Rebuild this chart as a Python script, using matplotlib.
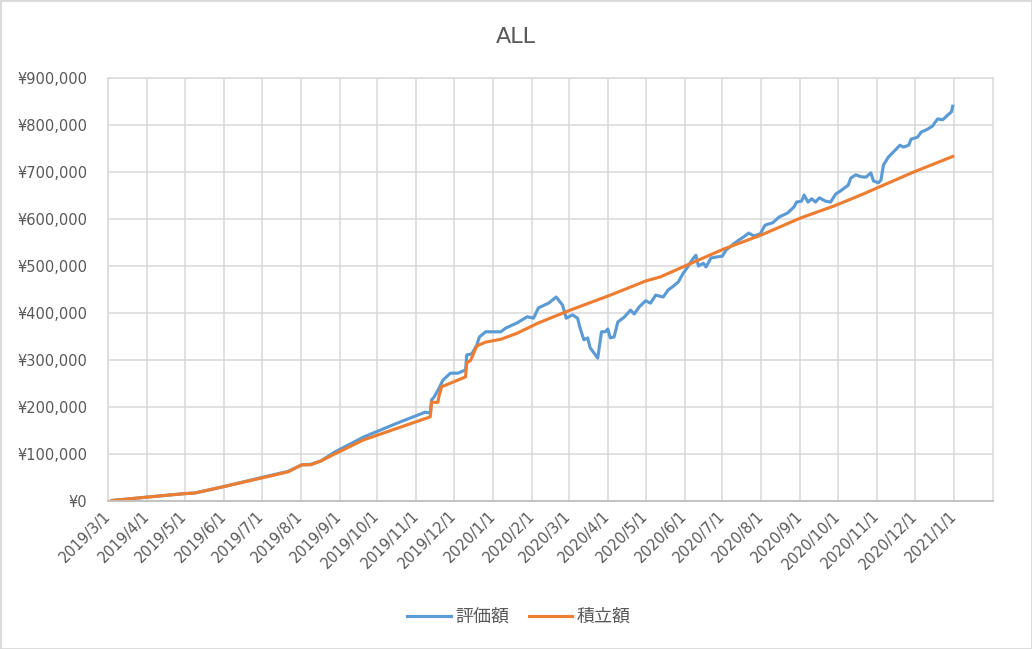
import numpy as np
import pandas as pd
import matplotlib
matplotlib.use("Agg")
import matplotlib.pyplot as plt
import matplotlib.dates as mdates
from matplotlib.patches import Rectangle
from matplotlib.ticker import FuncFormatter

plt.rcParams["font.family"] = ["DejaVu Sans", "Noto Sans CJK JP"]

TITLE = "ALL"
SERIES_NAMES = ["評価額", "積立額"]

# 積立額 (accumulated contributions)
tsumitate_dates = [
    "2019-03-04", "2019-04-02", "2019-04-30", "2019-05-09", "2019-05-31",
    "2019-07-01", "2019-07-22", "2019-08-02", "2019-08-09", "2019-08-17",
    "2019-08-28", "2019-09-20", "2019-10-17", "2019-11-12", "2019-11-13",
    "2019-11-18", "2019-11-19", "2019-11-21", "2019-12-10", "2019-12-11",
    "2019-12-14", "2019-12-19", "2019-12-26", "2020-01-07", "2020-01-20",
    "2020-02-06", "2020-03-02", "2020-04-03", "2020-05-01", "2020-05-13",
    "2020-06-03", "2020-07-02", "2020-08-01", "2020-09-01", "2020-09-28",
    "2020-10-19", "2020-11-30", "2020-12-31",
]
tsumitate_values = [
    1000, 8500, 15500, 17000, 30000,
    49000, 62000, 77000, 77000, 85000,
    100000, 130000, 155000, 179000, 210000,
    210000, 224000, 243000, 264000, 294000,
    299000, 330000, 338000, 344000, 357000,
    379000, 406000, 438000, 468000, 477000,
    502000, 536000, 566000, 602000, 628000,
    651000, 700000, 733000,
]

# 評価額 (market value)
hyouka_dates = [
    "2019-03-04", "2019-04-02", "2019-04-30", "2019-05-09", "2019-05-31",
    "2019-07-01", "2019-07-22", "2019-08-02", "2019-08-09", "2019-08-17",
    "2019-08-28", "2019-09-20", "2019-10-17", "2019-11-08", "2019-11-12",
    "2019-11-13", "2019-11-15", "2019-11-19", "2019-11-22", "2019-11-28",
    "2019-12-04", "2019-12-10", "2019-12-11", "2019-12-15", "2019-12-19",
    "2019-12-21", "2019-12-26", "2020-01-07", "2020-01-11", "2020-01-20",
    "2020-01-28", "2020-02-02", "2020-02-06", "2020-02-14", "2020-02-20",
    "2020-02-25", "2020-02-28", "2020-03-04", "2020-03-08", "2020-03-10",
    "2020-03-13", "2020-03-16", "2020-03-18", "2020-03-24", "2020-03-27",
    "2020-03-30", "2020-04-01", "2020-04-03", "2020-04-06", "2020-04-09",
    "2020-04-14", "2020-04-19", "2020-04-22", "2020-04-26", "2020-05-01",
    "2020-05-05", "2020-05-09", "2020-05-15", "2020-05-19", "2020-05-23",
    "2020-05-27", "2020-05-31", "2020-06-03", "2020-06-07", "2020-06-10",
    "2020-06-12", "2020-06-16", "2020-06-18", "2020-06-22", "2020-06-26",
    "2020-07-01", "2020-07-04", "2020-07-10", "2020-07-14", "2020-07-18",
    "2020-07-22", "2020-07-26", "2020-07-31", "2020-08-04", "2020-08-10",
    "2020-08-15", "2020-08-22", "2020-08-27", "2020-08-29", "2020-09-02",
    "2020-09-04", "2020-09-07", "2020-09-10", "2020-09-13", "2020-09-16",
    "2020-09-21", "2020-09-25", "2020-09-29", "2020-10-03", "2020-10-09",
    "2020-10-11", "2020-10-15", "2020-10-19", "2020-10-23", "2020-10-27",
    "2020-10-29", "2020-11-02", "2020-11-04", "2020-11-06", "2020-11-10",
    "2020-11-14", "2020-11-17", "2020-11-19", "2020-11-22", "2020-11-26",
    "2020-11-28", "2020-12-03", "2020-12-06", "2020-12-11", "2020-12-15",
    "2020-12-19", "2020-12-23", "2020-12-27", "2020-12-30", "2020-12-31",
]
hyouka_values = [
    1000, 8500, 15500, 17000, 30000,
    50000, 63000, 77000, 78000, 85000,
    104000, 136000, 166000, 189000, 187000,
    215000, 221000, 240000, 257000, 272000,
    272000, 279000, 311000, 313000, 332000,
    349000, 360000, 360000, 368000, 379000,
    392000, 389000, 411000, 421000, 434000,
    417000, 389000, 396000, 389000, 368000,
    343000, 347000, 326000, 304000, 360000,
    360000, 366000, 347000, 349000, 381000,
    391000, 406000, 398000, 413000, 426000,
    421000, 438000, 434000, 449000, 457000,
    466000, 485000, 496000, 513000, 523000,
    500000, 506000, 498000, 517000, 519000,
    521000, 534000, 547000, 555000, 562000,
    570000, 564000, 568000, 587000, 592000,
    604000, 613000, 626000, 636000, 638000,
    651000, 636000, 643000, 636000, 645000,
    638000, 636000, 653000, 660000, 672000,
    687000, 694000, 690000, 689000, 698000,
    681000, 677000, 683000, 715000, 732000,
    743000, 751000, 757000, 753000, 757000,
    770000, 774000, 785000, 791000, 798000,
    813000, 811000, 821000, 828000, 840000,
]

y_ticks = [0, 100000, 200000, 300000, 400000, 500000, 600000, 700000, 800000, 900000]

TEXT = "#595959"
GRID = "#D9D9D9"

fig = plt.figure(figsize=(10.32, 6.49), dpi=100)
ax = fig.add_axes([108 / 1032, 1 - 501 / 649, 885 / 1032, 423 / 649])

ax.plot(pd.to_datetime(hyouka_dates), hyouka_values, color="#5B9BD5", lw=2.25,
        label=SERIES_NAMES[0], solid_joinstyle="round")
ax.plot(pd.to_datetime(tsumitate_dates), tsumitate_values, color="#ED7D31", lw=2.25,
        label=SERIES_NAMES[1], solid_joinstyle="round")

months = pd.date_range("2019-03-01", "2021-01-01", freq="MS")
ax.set_xlim(pd.Timestamp("2019-03-01"), pd.Timestamp("2021-02-01"))
ax.set_xticks(months)
ax.xaxis.set_major_formatter(FuncFormatter(
    lambda v, p: "%d/%d/%d" % (mdates.num2date(v).year, mdates.num2date(v).month, mdates.num2date(v).day)))
ax.set_ylim(0, 900000)
ax.set_yticks(y_ticks)
ax.yaxis.set_major_formatter(FuncFormatter(lambda v, p: "¥{:,.0f}".format(v)))

ax.grid(True, color=GRID, lw=1.1)
ax.set_axisbelow(True)
for side in ["top", "right", "left"]:
    ax.spines[side].set_color(GRID)
    ax.spines[side].set_linewidth(1.1)
ax.spines["bottom"].set_color("#BFBFBF")
ax.spines["bottom"].set_linewidth(1.3)

ax.tick_params(axis="both", length=0, colors=TEXT, labelsize=10.5)
ax.tick_params(axis="x", pad=9)
ax.tick_params(axis="y", pad=15)
for lbl in ax.get_xticklabels():
    lbl.set_rotation(45)
    lbl.set_ha("right")
    lbl.set_va("center")
    lbl.set_rotation_mode("anchor")

fig.text(0.5, 1 - 37 / 649, TITLE, ha="center", va="center", fontsize=16, color=TEXT)

ax.legend(loc="center", bbox_to_anchor=(519 / 1032, 1 - 617 / 649),
          bbox_transform=fig.transFigure, ncol=2, frameon=False,
          prop={"family": ["Noto Sans CJK JP", "DejaVu Sans"], "size": 13},
          handlelength=2.4, columnspacing=1.1, handletextpad=0.25,
          labelcolor=TEXT)

fig.patches.append(Rectangle((0, 0), 1, 1, transform=fig.transFigure, fill=False,
                             edgecolor=GRID, lw=2))

fig.savefig("out.png", dpi=100)
